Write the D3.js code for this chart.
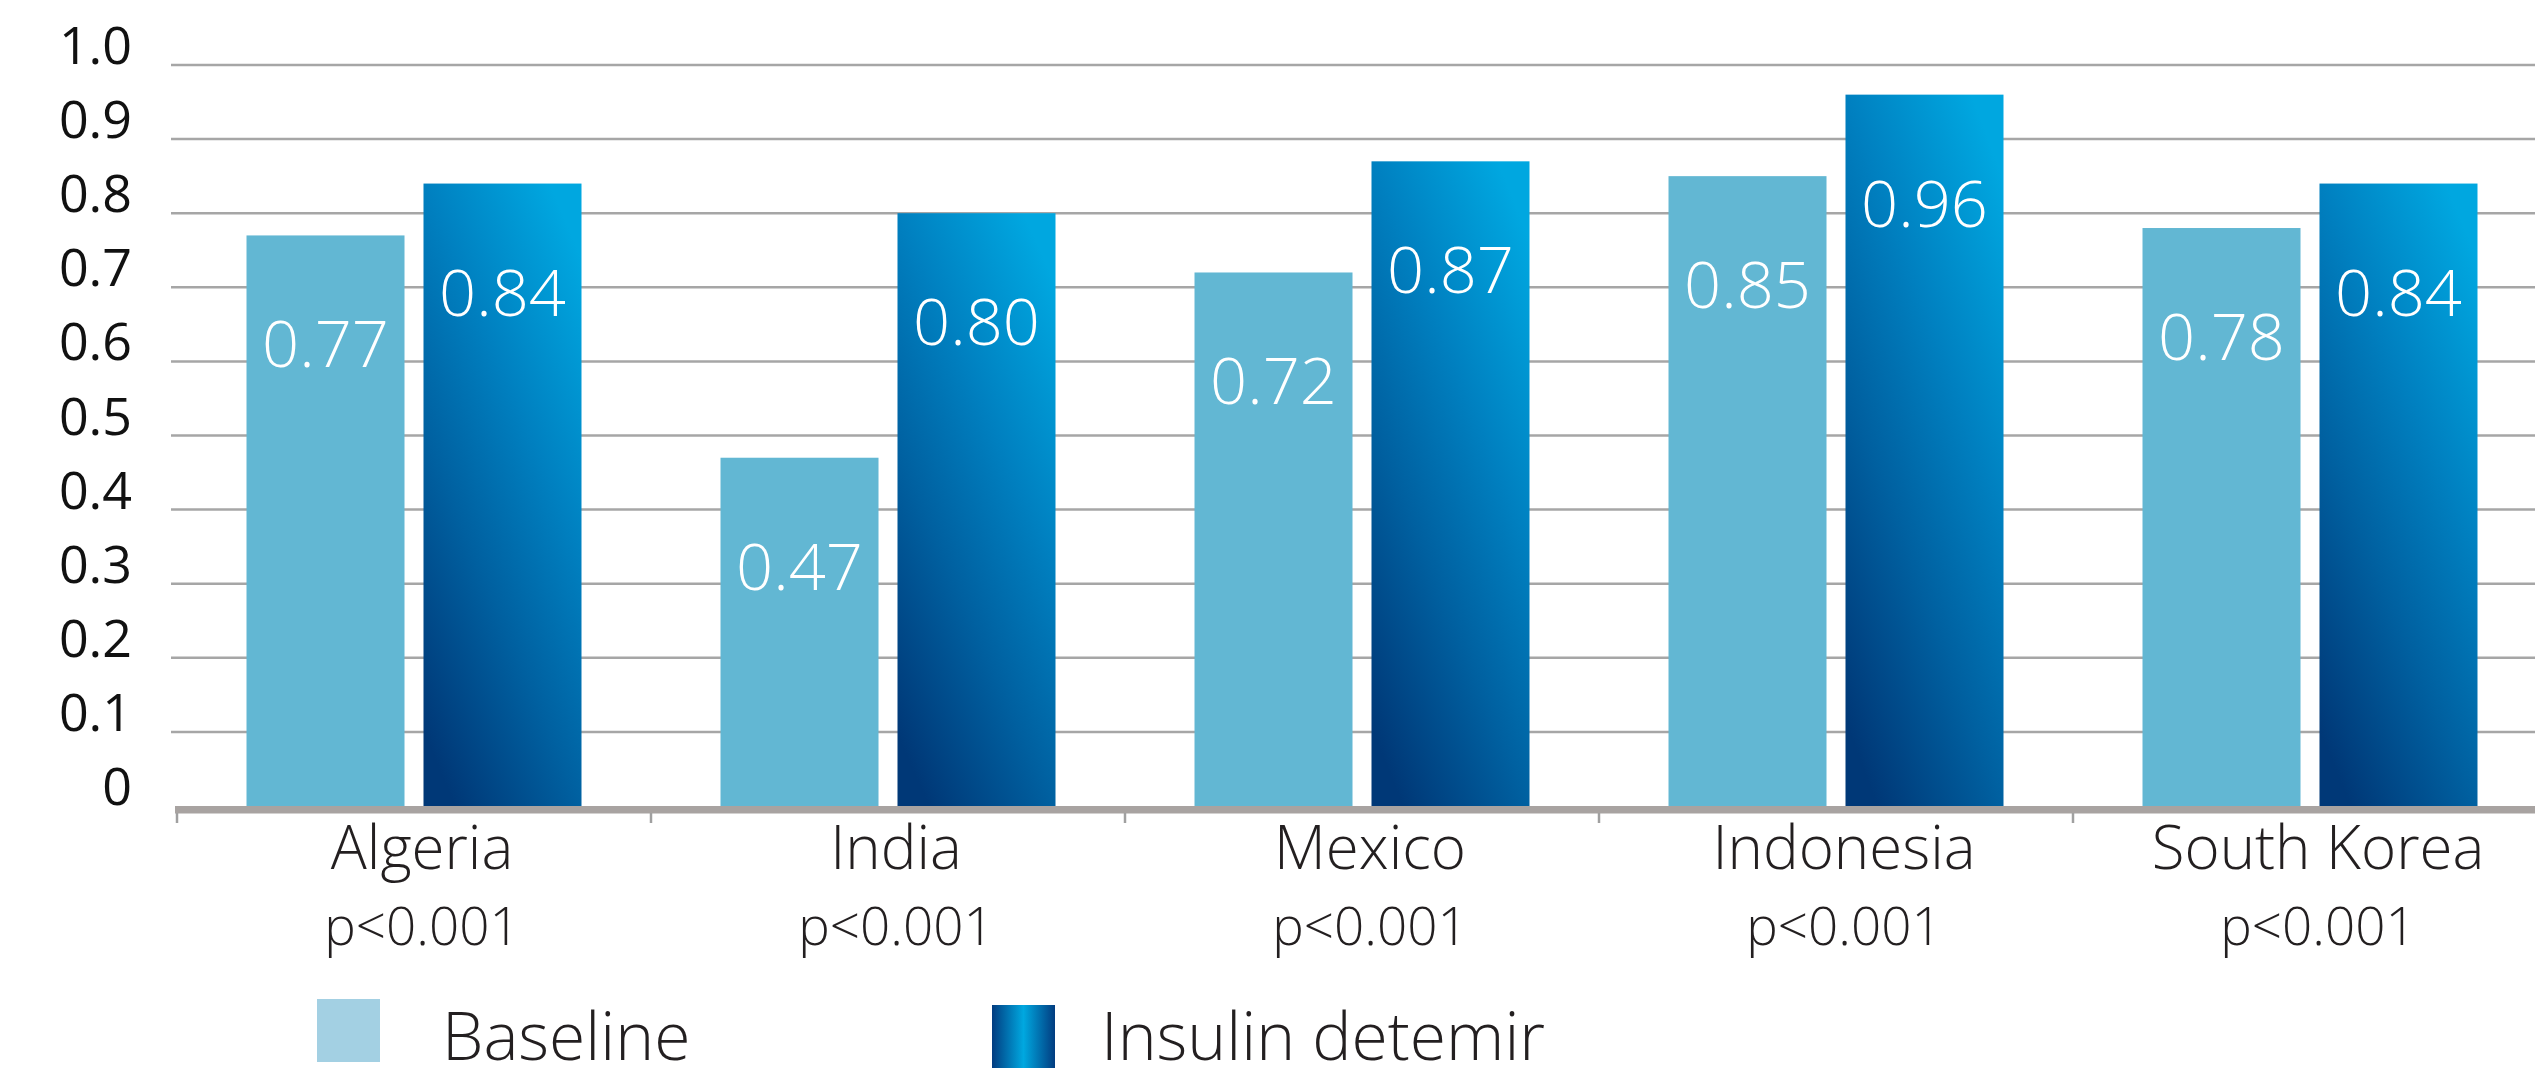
<!DOCTYPE html>
<html>
<head>
<meta charset="utf-8">
<script src="https://cdn.jsdelivr.net/npm/d3@7"></script>
<style>
  html, body { margin: 0; padding: 0; background: #ffffff; overflow: hidden; }
  svg { display: block; }
  text { font-family: "Open Sans", "Noto Sans", sans-serif; }
</style>
</head>
<body>
<svg id="chart" width="2535" height="1084"></svg>
<script>
// Chart data
const countries = ["Algeria", "India", "Mexico", "Indonesia", "South Korea"];
const pValues = ["p<0.001", "p<0.001", "p<0.001", "p<0.001", "p<0.001"];
const seriesNames = ["Baseline", "Insulin detemir"];
const baselineValues = [0.77, 0.47, 0.72, 0.85, 0.78];
const insulinValues = [0.84, 0.80, 0.87, 0.96, 0.84];
const yTickValues = [0, 0.1, 0.2, 0.3, 0.4, 0.5, 0.6, 0.7, 0.8, 0.9, 1.0];
const yTickLabels = ["0", "0.1", "0.2", "0.3", "0.4", "0.5", "0.6", "0.7", "0.8", "0.9", "1.0"];

const rows = countries.map((c, i) => ({
  country: c,
  p: pValues[i],
  values: [
    { series: seriesNames[0], value: baselineValues[i] },
    { series: seriesNames[1], value: insulinValues[i] }
  ]
}));

const W = 2535, H = 1084;
const svg = d3.select("#chart");
const textColor = "#231f20";

// Gradients
const defs = svg.append("defs");
const barGrad = defs.append("linearGradient")
  .attr("id", "insulinBar")
  .attr("x1", 0.2).attr("y1", 1).attr("x2", 0.8).attr("y2", 0);
[[0, "#003877"], [0.35, "#0060a0"], [0.65, "#0080c0"], [1, "#00a7e0"]]
  .forEach(([o, c]) => barGrad.append("stop").attr("offset", o).attr("stop-color", c));

const swatchGrad = defs.append("linearGradient")
  .attr("id", "insulinSwatch")
  .attr("x1", 0).attr("y1", 0).attr("x2", 1).attr("y2", 0);
[[0, "#023c80"], [0.5, "#00a8e0"], [1, "#023c80"]]
  .forEach(([o, c]) => swatchGrad.append("stop").attr("offset", o).attr("stop-color", c));

const barFill = { "Baseline": "#62b7d3", "Insulin detemir": "url(#insulinBar)" };
const swatchFill = { "Baseline": "#a3d0e3", "Insulin detemir": "url(#insulinSwatch)" };

// Scales
const y = d3.scaleLinear().domain([0, 1]).range([806, 65]);
const bandStep = 474;
const x0 = d3.scaleBand().domain(countries)
  .range([177, 177 + bandStep * countries.length])
  .paddingInner(0).paddingOuter(0);
const x1 = d3.scaleBand().domain(seriesNames)
  .range([0, x0.bandwidth()])
  .paddingInner(0.1073).paddingOuter(0.3927);

// Gridlines
svg.append("g").selectAll("line")
  .data(yTickValues.filter(d => d > 0))
  .join("line")
  .attr("x1", 171).attr("x2", W)
  .attr("y1", d => y(d)).attr("y2", d => y(d))
  .attr("stroke", "#a6a6a6").attr("stroke-width", 2.5);

// Y tick labels (sitting on their gridlines)
svg.append("g").selectAll("text")
  .data(yTickValues)
  .join("text")
  .attr("x", 132)
  .attr("y", d => y(d) - 1)
  .attr("text-anchor", "end")
  .attr("font-size", 52)
  .attr("font-weight", 400)
  .attr("fill", "#111")
  .text((d, i) => yTickLabels[i]);

// Bars
const groups = svg.append("g").selectAll("g")
  .data(rows)
  .join("g")
  .attr("transform", d => `translate(${x0(d.country)},0)`);

groups.selectAll("rect")
  .data(d => d.values)
  .join("rect")
  .attr("x", d => x1(d.series))
  .attr("width", x1.bandwidth())
  .attr("y", d => y(d.value))
  .attr("height", d => y(0) - y(d.value))
  .attr("fill", d => barFill[d.series]);

// Value labels inside bars
groups.selectAll("text.value")
  .data(d => d.values)
  .join("text")
  .attr("class", "value")
  .attr("x", d => x1(d.series) + x1.bandwidth() / 2)
  .attr("y", d => y(d.value) + 132)
  .attr("text-anchor", "middle")
  .attr("font-size", 65)
  .attr("font-weight", 300)
  .attr("fill", "#ffffff")
  .text(d => d3.format(".2f")(d.value));

// X axis line and boundary ticks
svg.append("rect")
  .attr("x", 175).attr("y", y(0))
  .attr("width", W - 175).attr("height", 7.5)
  .attr("fill", "#a8a3a1");

svg.append("g").selectAll("line")
  .data(countries)
  .join("line")
  .attr("x1", d => x0(d)).attr("x2", d => x0(d))
  .attr("y1", y(0) + 7).attr("y2", y(0) + 17)
  .attr("stroke", "#a0a0a0").attr("stroke-width", 2.5);

// Category labels: country name, with its p-value underneath
const catLabels = svg.append("g").selectAll("g")
  .data(rows)
  .join("g")
  .attr("transform", d => `translate(${x0(d.country) + x0.bandwidth() / 2 + 8},0)`);

catLabels.append("text")
  .attr("y", 869)
  .attr("text-anchor", "middle")
  .attr("font-size", 60)
  .attr("font-weight", 300)
  .attr("fill", textColor)
  .text(d => d.country);

catLabels.append("text")
  .attr("y", 945)
  .attr("text-anchor", "middle")
  .attr("font-size", 53)
  .attr("font-weight", 300)
  .attr("fill", textColor)
  .text(d => d.p);

// Legend
const legendPos = [
  { sx: 317, sy: 999, tx: 442 },
  { sx: 992, sy: 1005, tx: 1101 }
];
const legend = svg.append("g").selectAll("g")
  .data(seriesNames)
  .join("g");

legend.append("rect")
  .attr("x", (d, i) => legendPos[i].sx)
  .attr("y", (d, i) => legendPos[i].sy)
  .attr("width", 63).attr("height", 63)
  .attr("fill", d => swatchFill[d]);

legend.append("text")
  .attr("x", (d, i) => legendPos[i].tx)
  .attr("y", 1060)
  .attr("font-size", 66)
  .attr("font-weight", 300)
  .attr("fill", textColor)
  .text(d => d);
</script>
</body>
</html>
